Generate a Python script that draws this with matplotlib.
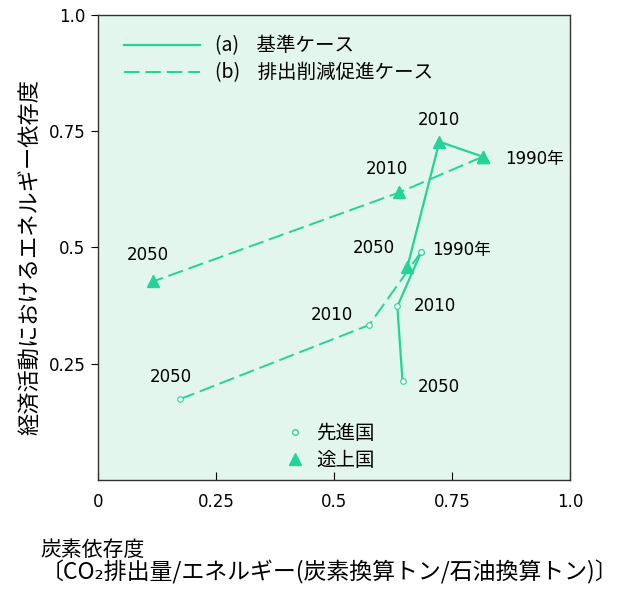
import matplotlib.pyplot as plt
from matplotlib.lines import Line2D

plt.rcParams['font.family'] = ['Noto Sans CJK JP', 'DejaVu Sans']

# data (x: carbon intensity, y: energy intensity)
years = ['1990年', '2010', '2050']
a_dev_x = [0.685, 0.634, 0.645]
a_dev_y = [0.491, 0.373, 0.212]
b_dev_x = [0.685, 0.574, 0.174]
b_dev_y = [0.491, 0.333, 0.174]
a_ing_x = [0.815, 0.723, 0.655]
a_ing_y = [0.695, 0.727, 0.457]
b_ing_x = [0.815, 0.638, 0.117]
b_ing_y = [0.695, 0.618, 0.427]

xticks = [0, 0.25, 0.5, 0.75, 1.0]
xticklabels = ['0', '0.25', '0.5', '0.75', '1.0']
yticks = [0.25, 0.5, 0.75, 1.0]
yticklabels = ['0.25', '0.5', '0.75', '1.0']

green = '#22d49a'
bg = '#e2f6ed'

fig = plt.figure(figsize=(6.21, 5.89), dpi=100)
ax = fig.add_axes([0.158, 0.185, 0.76, 0.79])
ax.set_facecolor(bg)

# base case (solid)
ax.plot(a_dev_x, a_dev_y, '-', color=green, lw=1.6, marker='o', ms=4,
        mfc='white', mec=green, mew=0.8)
ax.plot(a_ing_x, a_ing_y, '-', color=green, lw=1.6, marker='^', ms=8,
        mfc=green, mec=green)
# reduction case (dashed)
ax.plot(b_dev_x, b_dev_y, color=green, lw=1.4, dashes=(8, 3), marker='o',
        ms=4, mfc='white', mec=green, mew=0.8)
ax.plot(b_ing_x, b_ing_y, color=green, lw=1.4, dashes=(8, 3), marker='^',
        ms=8, mfc=green, mec=green)

lab = dict(textcoords='offset points', fontsize=12, va='center',
           family='DejaVu Sans')
def note(txt, x, y, dx, dy, ha='center'):
    kw = dict(lab)
    if '年' in txt:
        kw['family'] = ['DejaVu Sans', 'Noto Sans CJK JP']
    ax.annotate(txt, (x, y), xytext=(dx, dy), ha=ha, **kw)

note(years[0], a_ing_x[0], a_ing_y[0], 16, -2, 'left')
note(years[1], a_ing_x[1], a_ing_y[1], 0, 16)
note(years[2], a_ing_x[2], a_ing_y[2], -24, 14)
note(years[1], b_ing_x[1], b_ing_y[1], -9, 17)
note(years[2], b_ing_x[2], b_ing_y[2], -4, 19)
note(years[0], a_dev_x[0], a_dev_y[0], 8, 1, 'left')
note(years[1], a_dev_x[1], a_dev_y[1], 12, 0, 'left')
note(years[2], a_dev_x[2], a_dev_y[2], 11, -4, 'left')
note(years[1], b_dev_x[1], b_dev_y[1], -27, 7)
note(years[2], b_dev_x[2], b_dev_y[2], -7, 16)

ax.set_xlim(0, 1)
ax.set_ylim(0, 1)
ax.set_xticks(xticks)
ax.set_xticklabels(xticklabels, family='DejaVu Sans', fontsize=12)
ax.set_yticks(yticks)
ax.set_yticklabels(yticklabels, family='DejaVu Sans', fontsize=12)
ax.tick_params(axis='x', direction='in', length=6, pad=9)
ax.tick_params(axis='y', direction='out', length=5, pad=4)
for s in ax.spines.values():
    s.set_linewidth(1.0)
    s.set_color('#333333')

# y axis title, placed by hand so it clears the tick labels
ax.text(-0.142, 0.48, '経済活動におけるエネルギー依存度', fontsize=16,
        rotation=90, ha='center', va='center', transform=ax.transAxes)

line_handles = [Line2D([], [], color=green, lw=1.6),
                Line2D([], [], color=green, lw=1.4, dashes=(8, 3))]
leg1 = ax.legend(line_handles, ['(a)    基準ケース', '(b)    排出削減促進ケース'],
                 loc='upper left', bbox_to_anchor=(0.038, 0.972), frameon=False,
                 fontsize=14, handlelength=3.9, handletextpad=0.8,
                 labelspacing=0.3, borderaxespad=0)
ax.add_artist(leg1)
mark_handles = [Line2D([], [], ls='', marker='o', ms=4, mfc='white', mec=green),
                Line2D([], [], ls='', marker='^', ms=8, mfc=green, mec=green)]
ax.legend(mark_handles, ['先進国', '途上国'], loc='upper left',
          bbox_to_anchor=(0.38, 0.14), frameon=False, fontsize=14,
          handlelength=1.0, handletextpad=0.6, labelspacing=0.3,
          borderaxespad=0)

fig.text(0.065, 0.066, '炭素依存度', fontsize=15, va='center')
fig.text(0.065, 0.029, '〔CO₂排出量/エネルギー(炭素換算トン/石油換算トン)〕',
         fontsize=16.5, va='center')

fig.savefig('out.png', dpi=100)
